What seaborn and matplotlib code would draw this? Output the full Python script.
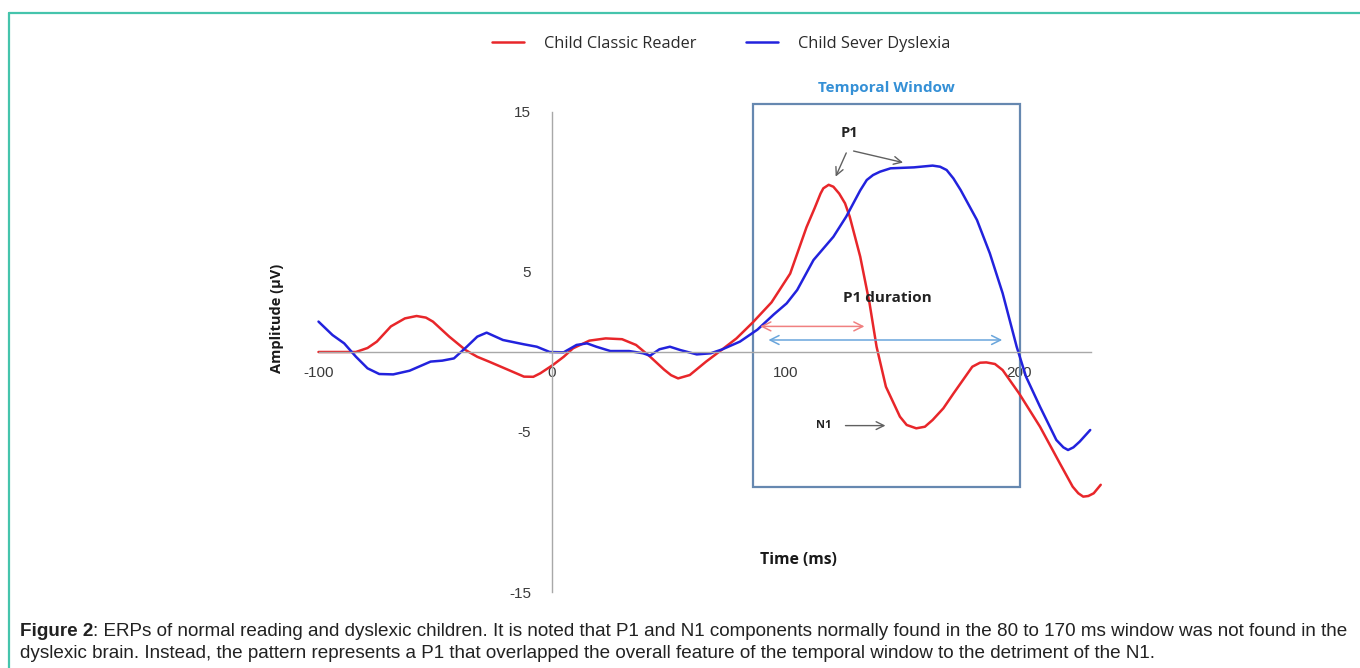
import numpy as np
import pandas as pd
import matplotlib
matplotlib.use("Agg")
import matplotlib.pyplot as plt
import seaborn as sns
from matplotlib.patches import Rectangle
from matplotlib.lines import Line2D

# ---------------- data ----------------
series_names = ["Child Classic Reader", "Child Sever Dyslexia"]

t_reader = [-100, -84, -79, -75, -69, -63, -58, -54, -51, -44, -37, -32, -27, -19, -12, -8,
            -5, 0.5, 5, 9, 16, 23, 30, 36, 42, 48, 51, 54, 59, 66, 72, 79, 86, 94, 102,
            109, 112.5, 115, 116.2, 118.5, 120.5, 123, 125.5, 127.5, 132, 136, 139, 143,
            149, 151.9, 156, 159.7, 163, 167.6, 172, 180, 183.3, 186, 189.7, 193, 200,
            209, 217.5, 223, 225.4, 227.5, 229.7, 232, 235]
v_reader = [0, 0, 0.25, 0.65, 1.6, 2.1, 2.25, 2.15, 1.9, 0.96, 0.12, -0.3, -0.6, -1.1,
            -1.54, -1.55, -1.33, -0.8, -0.3, 0.23, 0.71, 0.85, 0.8, 0.44, -0.29, -1.1,
            -1.45, -1.65, -1.44, -0.6, 0.06, 0.85, 1.85, 3.1, 4.9, 7.8, 9.0, 9.9, 10.23,
            10.45, 10.33, 9.9, 9.29, 8.46, 5.96, 3.04, 0.33, -2.17, -4.04, -4.56, -4.77,
            -4.67, -4.25, -3.52, -2.58, -0.92, -0.67, -0.65, -0.75, -1.13, -2.58, -4.67,
            -6.96, -8.42, -8.83, -9.04, -9.0, -8.83, -8.3]

t_dyslexia = [-100, -94, -89, -84, -79, -74, -68, -61, -52, -47, -42, -36.5, -32, -28,
              -21, -12, -6.5, -1, 5, 10.5, 15, 19, 25, 33, 39, 42, 46, 50.5, 55, 62, 68,
              73, 80.5, 88, 95, 100.5, 105, 112, 120.5, 126, 132, 134.8, 137.5, 140.5,
              145, 155, 163, 166.2, 169, 171.9, 175, 182, 187.5, 193, 199, 203, 209, 216,
              219, 221, 223.3, 226, 230.5]
v_dyslexia = [1.9, 1.06, 0.54, -0.29, -1.02, -1.375, -1.4, -1.17, -0.6, -0.54, -0.4, 0.33,
              0.96, 1.21, 0.75, 0.48, 0.33, 0, -0.02, 0.44, 0.54, 0.33, 0.06, 0.06, -0.08,
              -0.23, 0.17, 0.33, 0.12, -0.15, -0.08, 0.17, 0.65, 1.4, 2.35, 3.04, 3.875,
              5.75, 7.2, 8.46, 10.1, 10.75, 11.06, 11.27, 11.48, 11.54, 11.65, 11.58,
              11.375, 10.85, 10.125, 8.25, 6.17, 3.67, 0.33, -1.54, -3.42, -5.5, -5.96,
              -6.125, -5.96, -5.6, -4.875]

x_tick_labels = [-100, 0, 100, 200]
x_minor_ticks = [-50, 50, 150]
y_tick_labels = [-15, -5, 5, 15]

window_start, window_end = 86, 200.4
window_low, window_high = -8.44, 15.5

caption_bold = "Figure 2"
caption_line1 = (": ERPs of normal reading and dyslexic children. It is noted that P1 and N1 "
                 "components normally found in the 80 to 170 ms window was not found in the")
caption_line2 = ("dyslexic brain. Instead, the pattern represents a P1 that overlapped the overall "
                 "feature of the temporal window to the detriment of the N1.")

# ---------------- build dataframe ----------------
df = pd.concat([
    pd.DataFrame({"Time": t_reader, "Amplitude": v_reader, "Group": series_names[0]}),
    pd.DataFrame({"Time": t_dyslexia, "Amplitude": v_dyslexia, "Group": series_names[1]}),
], ignore_index=True)

sns.set_style("white")
plt.rcParams["font.family"] = ["Liberation Sans", "DejaVu Sans"]

W, H = 1360, 668
fig = plt.figure(figsize=(W / 100, H / 100), dpi=100)

# axes placed so that x: 552 + 2.335*t px, y: 352 - 16*v px
xlim = (-110, 240)
ylim = (-16, 16)
x0 = 552 + 2.335 * xlim[0]
x1 = 552 + 2.335 * xlim[1]
ytop = 352 - 16 * ylim[1]
ybot = 352 - 16 * ylim[0]
ax = fig.add_axes([x0 / W, (H - ybot) / H, (x1 - x0) / W, (ybot - ytop) / H])
ax.patch.set_alpha(0)

palette = {series_names[0]: "#e8262a", series_names[1]: "#2222dd"}
sns.lineplot(data=df, x="Time", y="Amplitude", hue="Group", palette=palette,
             linewidth=1.8, ax=ax, legend=True, sort=True, estimator=None)
for ln in ax.get_lines():
    ln.set_solid_joinstyle("round")
    ln.set_solid_capstyle("round")

ax.set_xlim(*xlim)
ax.set_ylim(*ylim)

# centered axes
axis_col = "#a8a8a8"
for s in ["top", "right"]:
    ax.spines[s].set_visible(False)
ax.spines["left"].set_position(("data", 0))
ax.spines["bottom"].set_position(("data", 0))
ax.spines["left"].set_bounds(-15, 15)
ax.spines["bottom"].set_bounds(-100, 231)
for s in ["left", "bottom"]:
    ax.spines[s].set_color(axis_col)
    ax.spines[s].set_linewidth(1.0)

ax.set_xticks(x_tick_labels)
ax.set_xticks(x_minor_ticks, minor=True)
ax.set_xticklabels([str(v) for v in x_tick_labels])
ax.set_yticks(y_tick_labels)
ax.set_yticks([v for v in range(-15, 16) if v not in y_tick_labels and v != 0], minor=True)
ax.set_yticklabels([str(v) for v in y_tick_labels])
ax.tick_params(axis="both", which="both", direction="inout", color=axis_col, width=0.9)
ax.tick_params(axis="both", which="major", length=8, labelsize=11, labelcolor="#3a3a3a")
ax.tick_params(axis="both", which="minor", length=7)
ax.tick_params(axis="x", which="major", pad=6)
ax.tick_params(axis="y", which="major", pad=11)
ax.set_xlabel("")
ax.set_ylabel("")

# temporal window box
ax.add_patch(Rectangle((window_start, window_low), window_end - window_start,
                       window_high - window_low, fill=False, edgecolor="#6688b0",
                       linewidth=1.6, zorder=1))

lab_font = ["Open Sans", "DejaVu Sans"]
ax.text((window_start + window_end) / 2, 16.5, "Temporal Window", ha="center", va="center",
        fontsize=11, fontweight="bold", color="#3590d6", family=lab_font)

# P1 labels and arrows
ax.text(127.5, 13.7, "P1", ha="center", va="center", fontsize=10.5, fontweight="bold",
        color="#222222", family=lab_font)
arrow_gray = dict(arrowstyle="->", color="#606060", lw=1.0, mutation_scale=14)
ax.annotate("", xy=(121, 10.8), xytext=(126.5, 12.6), arrowprops=arrow_gray)
ax.annotate("", xy=(151.5, 11.8), xytext=(128, 12.6), arrowprops=arrow_gray)

# P1 duration
ax.text(143.5, 3.4, "P1 duration", ha="center", va="center", fontsize=11, fontweight="bold",
        color="#222222", family=lab_font)
ax.annotate("", xy=(135, 1.6), xytext=(88, 1.6),
            arrowprops=dict(arrowstyle="<->", color="#f08080", lw=1.1, mutation_scale=16))
ax.annotate("", xy=(194, 0.75), xytext=(91.5, 0.75),
            arrowprops=dict(arrowstyle="<->", color="#6aa6dc", lw=1.1, mutation_scale=16))

# N1
ax.text(116.5, -4.6, "N1", ha="center", va="center", fontsize=8, fontweight="bold",
        color="#222222", family=lab_font)
ax.annotate("", xy=(144, -4.6), xytext=(124.5, -4.6), arrowprops=arrow_gray)

# axis titles
fig.text(798 / W, 1 - 560 / H, "Time (ms)", ha="center", va="center", fontsize=11.3,
         fontweight="bold", color="#1a1a1a", family=lab_font)
fig.text(277 / W, 1 - 318 / H, "Amplitude (\u00b5V)", ha="center", va="center", rotation=90,
         fontsize=10.5, fontweight="bold", color="#1a1a1a", family=lab_font)

# legend
handles, labels = ax.get_legend_handles_labels()
leg = ax.legend(handles, labels, loc="center", bbox_to_anchor=(721 / W, 1 - 44 / H),
                bbox_transform=fig.transFigure, ncol=2, frameon=False, handlelength=2.0,
                columnspacing=3.0, handletextpad=1.2,
                prop={"family": lab_font, "size": 11.8})
for t in leg.get_texts():
    t.set_color("#2a2a2a")

# caption
cap_kw = dict(fontsize=13.55, color="#222222", va="center", ha="left", family=["Liberation Sans"])
bt = fig.text(20 / W, 1 - 632 / H, caption_bold, fontweight="bold", **cap_kw)
fig.canvas.draw()
bb = bt.get_window_extent(fig.canvas.get_renderer())
fig.text(bb.x1 / W, 1 - 632 / H, caption_line1, **cap_kw)
fig.text(20 / W, 1 - 653 / H, caption_line2, **cap_kw)

# outer frame lines (left and top)
frame_col = "#45c4ac"
fig.add_artist(Line2D([9 / W, 9 / W], [0, 1 - 13 / H], transform=fig.transFigure,
                      color=frame_col, lw=1.6))
fig.add_artist(Line2D([9 / W, 1], [1 - 13 / H, 1 - 13 / H], transform=fig.transFigure,
                      color=frame_col, lw=1.6))

fig.savefig("out.png", dpi=100, facecolor="white")
